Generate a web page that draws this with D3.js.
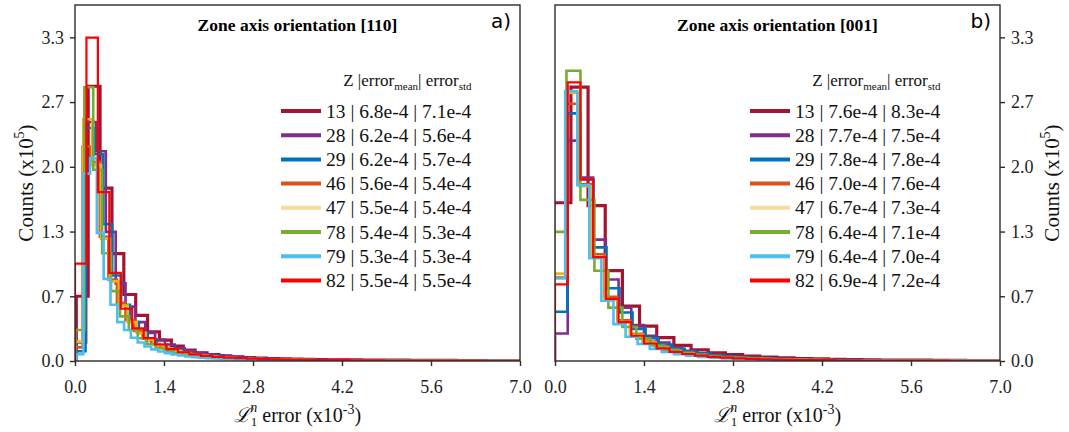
<!DOCTYPE html>
<html>
<head>
<meta charset="utf-8">
<script src="https://cdn.jsdelivr.net/npm/d3@7"></script>
<style>
  body { margin: 0; background: #fff; }
  svg { display: block; }
</style>
</head>
<body>
<svg id="chart" width="1069" height="432"></svg>
<script>
// ---- axis ticks ----
const xTicks = [0, 1.4, 2.8, 4.2, 5.6, 7.0];
const yTicks = [0, 2 / 3, 4 / 3, 2, 8 / 3, 10 / 3];

// ---- series identity ----
const zValues = [13, 28, 29, 46, 47, 78, 79, 82];
const seriesColors = ["#A2142F", "#7E2F8E", "#0072BD", "#D95319", "#EDB120", "#77AC30", "#4DBEEE", "#FF0000"];

// legend statistics: |error_mean| | error_std
const stats110 = ["6.8e-4 | 7.1e-4", "6.2e-4 | 5.6e-4", "6.2e-4 | 5.7e-4", "5.6e-4 | 5.4e-4",
                  "5.5e-4 | 5.4e-4", "5.4e-4 | 5.3e-4", "5.3e-4 | 5.3e-4", "5.5e-4 | 5.5e-4"];
const stats001 = ["7.6e-4 | 8.3e-4", "7.7e-4 | 7.5e-4", "7.8e-4 | 7.8e-4", "7.0e-4 | 7.6e-4",
                  "6.7e-4 | 7.3e-4", "6.4e-4 | 7.1e-4", "6.4e-4 | 7.0e-4", "6.9e-4 | 7.2e-4"];

// ---- histograms, zone axis [110] (error in 1e-3, counts in 1e5) ----
const binStart110 = [0.02, 0.02, 0.025, -0.015, -0.01, 0.007, 0.023, 0.0];
const binWidth110 = [0.187, 0.155, 0.14, 0.135, 0.14, 0.14, 0.107, 0.18];
const counts110_13 = [0.667, 2.83, 1.78, 1.106, 0.685, 0.469, 0.30, 0.216, 0.154, 0.113, 0.085, 0.065, 0.052, 0.042, 0.035, 0.030, 0.026, 0.022, 0.019, 0.017, 0.015, 0.013, 0.012, 0.011, 0.010, 0.009, 0.008, 0.008, 0.007, 0.007, 0.006, 0.006, 0.005, 0.005, 0.005, 0.004, 0.004, 0.004];
const counts110_28 = [0.19, 2.46, 2.16, 1.33, 0.80, 0.56, 0.40, 0.29, 0.22, 0.17, 0.13, 0.105, 0.085, 0.070, 0.058, 0.048, 0.040, 0.034, 0.029, 0.025, 0.021, 0.018, 0.016, 0.014, 0.012, 0.011, 0.010, 0.009, 0.008, 0.007, 0.007, 0.006, 0.006, 0.005, 0.005, 0.004, 0.004, 0.004, 0.003, 0.003, 0.003, 0.003, 0.002, 0.002, 0.002];
const counts110_29 = [0.10, 2.40, 2.13, 1.41, 0.88, 0.58, 0.40, 0.29, 0.215, 0.165, 0.13, 0.105, 0.085, 0.070, 0.058, 0.048, 0.040, 0.034, 0.029, 0.025, 0.021, 0.018, 0.016, 0.014, 0.012, 0.011, 0.010, 0.009, 0.008, 0.007, 0.007, 0.006, 0.006, 0.005, 0.005, 0.004, 0.004, 0.004, 0.003, 0.003, 0.003, 0.003, 0.002, 0.002, 0.002, 0.002, 0.002, 0.002, 0.001, 0.001];
const counts110_46 = [0.14, 2.21, 2.05, 1.28, 0.84, 0.60, 0.42, 0.31, 0.23, 0.175, 0.135, 0.108, 0.087, 0.071, 0.059, 0.049, 0.041, 0.035, 0.030, 0.025, 0.022, 0.019, 0.016, 0.014, 0.012, 0.011, 0.010, 0.009, 0.008, 0.007, 0.007, 0.006, 0.005, 0.005, 0.005, 0.004, 0.004, 0.003, 0.003, 0.003, 0.003, 0.002, 0.002, 0.002, 0.002, 0.002, 0.002, 0.001, 0.001, 0.001, 0.001, 0.001];
const counts110_47 = [0.20, 2.49, 2.02, 1.26, 0.82, 0.57, 0.40, 0.29, 0.22, 0.165, 0.128, 0.102, 0.082, 0.067, 0.055, 0.046, 0.039, 0.033, 0.028, 0.024, 0.020, 0.018, 0.015, 0.013, 0.012, 0.010, 0.009, 0.008, 0.007, 0.007, 0.006, 0.005, 0.005, 0.004, 0.004, 0.004, 0.003, 0.003, 0.003, 0.003, 0.002, 0.002, 0.002, 0.002, 0.002, 0.001, 0.001, 0.001, 0.001, 0.001];
const counts110_78 = [0.32, 2.82, 1.97, 1.11, 0.72, 0.46, 0.32, 0.235, 0.175, 0.133, 0.104, 0.083, 0.067, 0.055, 0.045, 0.038, 0.032, 0.027, 0.023, 0.020, 0.017, 0.015, 0.013, 0.011, 0.010, 0.009, 0.008, 0.007, 0.006, 0.006, 0.005, 0.005, 0.004, 0.004, 0.003, 0.003, 0.003, 0.003, 0.002, 0.002, 0.002, 0.002, 0.002, 0.001, 0.001, 0.001, 0.001, 0.001, 0.001, 0.001];
const counts110_79 = [0.07, 1.93, 2.09, 1.32, 0.846, 0.58, 0.40, 0.32, 0.24, 0.19, 0.15, 0.12, 0.098, 0.081, 0.067, 0.056, 0.047, 0.040, 0.034, 0.029, 0.025, 0.022, 0.019, 0.017, 0.015, 0.013, 0.012, 0.010, 0.009, 0.008, 0.008, 0.007, 0.006, 0.006, 0.005, 0.005, 0.004, 0.004, 0.004, 0.003, 0.003, 0.003, 0.003, 0.002, 0.002, 0.002, 0.002, 0.002, 0.002, 0.001, 0.001, 0.001, 0.001, 0.001, 0.001, 0.001, 0.001, 0.001, 0.001, 0.001, 0.001, 0.001, 0.001, 0.001, 0.001, 0.001];
const counts110_82 = [1.003, 3.33, 1.74, 0.907, 0.538, 0.336, 0.236, 0.17, 0.122, 0.090, 0.068, 0.053, 0.043, 0.035, 0.029, 0.024, 0.020, 0.017, 0.015, 0.013, 0.011, 0.010, 0.009, 0.008, 0.007, 0.006, 0.006, 0.005, 0.005, 0.004, 0.004, 0.004, 0.003, 0.003, 0.003, 0.003, 0.002, 0.002, 0.002];

// ---- histograms, zone axis [001] ----
const binStart001 = [-0.02, 0.0, -0.01, -0.02, -0.015, -0.04, -0.03, 0.0];
const binWidth001 = [0.27, 0.2, 0.205, 0.2, 0.2, 0.22, 0.19, 0.2];
const counts001_13 = [1.63, 2.82, 1.60, 0.93, 0.565, 0.36, 0.24, 0.16, 0.115, 0.085, 0.065, 0.050, 0.040, 0.032, 0.026, 0.021, 0.017, 0.014, 0.012, 0.010, 0.009, 0.008, 0.007, 0.006, 0.005, 0.005, 0.004];
const counts001_28 = [0.284, 2.27, 1.89, 1.25, 0.84, 0.55, 0.37, 0.26, 0.19, 0.14, 0.105, 0.080, 0.063, 0.050, 0.040, 0.033, 0.027, 0.022, 0.018, 0.015, 0.013, 0.011, 0.010, 0.009, 0.008, 0.007, 0.006, 0.006, 0.005, 0.005, 0.004, 0.004, 0.003, 0.003, 0.003];
const counts001_29 = [0.507, 2.55, 1.87, 1.17, 0.75, 0.50, 0.33, 0.235, 0.17, 0.125, 0.095, 0.073, 0.058, 0.046, 0.037, 0.030, 0.025, 0.020, 0.017, 0.014, 0.012, 0.010, 0.009, 0.008, 0.007, 0.006, 0.005, 0.005, 0.004, 0.004, 0.003, 0.003, 0.003, 0.002, 0.002];
const counts001_46 = [0.86, 2.65, 1.82, 1.10, 0.66, 0.42, 0.28, 0.20, 0.145, 0.108, 0.082, 0.064, 0.050, 0.040, 0.032, 0.026, 0.021, 0.018, 0.015, 0.012, 0.010, 0.009, 0.008, 0.007, 0.006, 0.005, 0.005, 0.004, 0.004, 0.003, 0.003, 0.003, 0.002, 0.002, 0.002, 0.002];
const counts001_47 = [0.90, 2.76, 1.80, 1.07, 0.63, 0.40, 0.27, 0.19, 0.138, 0.102, 0.078, 0.060, 0.047, 0.037, 0.030, 0.024, 0.020, 0.016, 0.013, 0.011, 0.009, 0.008, 0.007, 0.006, 0.005, 0.005, 0.004, 0.004, 0.003, 0.003, 0.003, 0.002, 0.002, 0.002, 0.002, 0.002];
const counts001_78 = [1.33, 2.99, 1.66, 0.93, 0.55, 0.35, 0.23, 0.16, 0.115, 0.085, 0.064, 0.049, 0.038, 0.030, 0.024, 0.020, 0.016, 0.013, 0.011, 0.009, 0.008, 0.007, 0.006, 0.005, 0.005, 0.004, 0.004, 0.003, 0.003, 0.003, 0.002, 0.002, 0.002];
const counts001_79 = [0.85, 2.78, 1.81, 1.06, 0.62, 0.38, 0.25, 0.175, 0.125, 0.092, 0.070, 0.054, 0.042, 0.033, 0.027, 0.022, 0.018, 0.015, 0.012, 0.010, 0.009, 0.008, 0.007, 0.006, 0.005, 0.005, 0.004, 0.004, 0.003, 0.003, 0.003, 0.002, 0.002, 0.002, 0.002, 0.002, 0.002, 0.001];
const counts001_82 = [0.79, 2.87, 1.87, 1.07, 0.64, 0.40, 0.26, 0.18, 0.13, 0.095, 0.072, 0.055, 0.043, 0.034, 0.027, 0.022, 0.018, 0.015, 0.012, 0.010, 0.009, 0.008, 0.007, 0.006, 0.005, 0.005, 0.004, 0.004, 0.003, 0.003, 0.003, 0.002, 0.002, 0.002, 0.002];

const counts110 = [counts110_13, counts110_28, counts110_29, counts110_46, counts110_47, counts110_78, counts110_79, counts110_82];
const counts001 = [counts001_13, counts001_28, counts001_29, counts001_46, counts001_47, counts001_78, counts001_79, counts001_82];

// ---- layout ----
const serif = "'Liberation Serif', 'Times New Roman', serif";
const sans = "'DejaVu Sans', sans-serif";
const plotTop = 5, plotBottom = 361, plotWidth = 445;
const strokeWidths = [3.2, 2.6, 2.6, 2.6, 2.6, 2.6, 2.6, 2.2];

const svg = d3.select("#chart");
const y = d3.scaleLinear().domain([0, 11 / 3]).range([plotBottom, plotTop]);

const panels = [
  { left: 75, title: "Zone axis orientation [110]", tag: "a)", starts: binStart110, widths: binWidth110,
    counts: counts110, stats: stats110, yAxisSide: "left", legendX: 281 },
  { left: 555, title: "Zone axis orientation [001]", tag: "b)", starts: binStart001, widths: binWidth001,
    counts: counts001, stats: stats001, yAxisSide: "right", legendX: 750 }
];

// build the outline of a step histogram from its bins
function stepPoints(start, width, counts) {
  const pts = [[start, 0]];
  counts.forEach((c, i) => {
    pts.push([start + i * width, c]);
    pts.push([start + (i + 1) * width, c]);
  });
  pts.push([start + counts.length * width, 0]);
  return pts;
}

panels.forEach((p, pi) => {
  const x = d3.scaleLinear().domain([0, 7]).range([p.left, p.left + plotWidth]);
  const g = svg.append("g");

  const clipId = "clip" + pi;
  svg.append("clipPath").attr("id", clipId)
    .append("rect").attr("x", p.left).attr("y", plotTop)
    .attr("width", plotWidth).attr("height", plotBottom - plotTop);

  const line = d3.line().x(d => x(d[0])).y(d => y(d[1]));
  const lines = g.append("g").attr("clip-path", `url(#${clipId})`);
  zValues.forEach((z, i) => {
    lines.append("path")
      .attr("d", line(stepPoints(p.starts[i], p.widths[i], p.counts[i])))
      .attr("fill", "none")
      .attr("stroke", seriesColors[i])
      .attr("stroke-width", strokeWidths[i])
      .attr("stroke-linejoin", "miter");
  });

  // frame
  g.append("rect").attr("x", p.left).attr("y", plotTop)
    .attr("width", plotWidth).attr("height", plotBottom - plotTop)
    .attr("fill", "none").attr("stroke", "#2b2b2b").attr("stroke-width", 1.4);

  // x axis
  const xAxis = g.append("g").attr("transform", `translate(0,${plotBottom})`)
    .call(d3.axisBottom(x).tickValues(xTicks).tickFormat(d3.format(".1f")).tickSize(5).tickPadding(14));
  xAxis.select(".domain").remove();

  // y axis
  const yAxisGen = p.yAxisSide === "left" ? d3.axisLeft(y) : d3.axisRight(y);
  const yAxis = g.append("g")
    .attr("transform", `translate(${p.yAxisSide === "left" ? p.left : p.left + plotWidth},0)`)
    .call(yAxisGen.tickValues(yTicks).tickFormat(d3.format(".1f")).tickSize(5).tickPadding(6));
  yAxis.select(".domain").remove();

  [xAxis, yAxis].forEach(a => {
    a.selectAll("text").attr("font-family", serif).attr("font-size", 18).attr("fill", "#222");
    a.selectAll("line").attr("stroke", "#2b2b2b").attr("stroke-width", 1.4);
  });

  // title and panel tag
  g.append("text").attr("x", p.left + plotWidth / 2).attr("y", 31)
    .attr("text-anchor", "middle").attr("font-family", serif).attr("font-weight", "bold")
    .attr("font-size", 17.5).attr("fill", "#000").text(p.title);
  g.append("text").attr("x", p.left + plotWidth - 9).attr("y", 28)
    .attr("text-anchor", "end").attr("font-family", sans).attr("font-size", 20)
    .attr("fill", "#000").text(p.tag);

  // x axis label
  const xl = g.append("text").attr("x", p.left + plotWidth / 2).attr("y", 422)
    .attr("text-anchor", "middle").attr("font-family", serif).attr("font-size", 20).attr("fill", "#111");
  xl.append("tspan").attr("font-style", "italic").text("\u2112");
  xl.append("tspan").attr("font-size", 13).attr("dy", 4).text("1");
  xl.append("tspan").attr("font-size", 14).attr("font-style", "italic").attr("dx", -7).attr("dy", -14).text("n");
  xl.append("tspan").attr("dy", 10).text(" error (x10");
  xl.append("tspan").attr("font-size", 14).attr("dy", -8).text("-3");
  xl.append("tspan").attr("dy", 8).text(")");

  // y axis label
  const ylx = p.yAxisSide === "left" ? 33 : 1059;
  const yl = g.append("text").attr("transform", `translate(${ylx},${(plotTop + plotBottom) / 2}) rotate(-90)`)
    .attr("text-anchor", "middle").attr("font-family", serif).attr("font-size", 21).attr("fill", "#111");
  yl.append("tspan").text("Counts (x10");
  yl.append("tspan").attr("font-size", 14).attr("dy", -9).text("5");
  yl.append("tspan").attr("dy", 9).text(")");

  // legend
  const lg = g.append("g");
  const rowY0 = 111, rowStep = 24.2;
  let rightEdge = 0;
  zValues.forEach((z, i) => {
    const cy = rowY0 + i * rowStep;
    lg.append("line").attr("x1", p.legendX).attr("x2", p.legendX + 40)
      .attr("y1", cy).attr("y2", cy)
      .attr("stroke", seriesColors[i]).attr("stroke-width", 4)
      .attr("stroke-opacity", z === 47 ? 0.45 : 1);
    const t = lg.append("text").attr("x", p.legendX + 45).attr("y", cy + 6.5)
      .attr("font-family", serif).attr("font-size", 19.5).attr("fill", "#111")
      .text(`${z} | ${p.stats[i]}`);
    const bb = t.node().getBBox();
    rightEdge = Math.max(rightEdge, bb.x + bb.width);
  });
  const head = lg.append("text").attr("x", rightEdge).attr("y", 86)
    .attr("text-anchor", "end").attr("font-family", serif).attr("font-size", 17).attr("fill", "#111");
  head.append("tspan").text("Z |error");
  head.append("tspan").attr("font-size", 11).attr("dy", 4).text("mean");
  head.append("tspan").attr("dy", -4).text("| error");
  head.append("tspan").attr("font-size", 11).attr("dy", 4).text("std");
});
</script>
</body>
</html>
